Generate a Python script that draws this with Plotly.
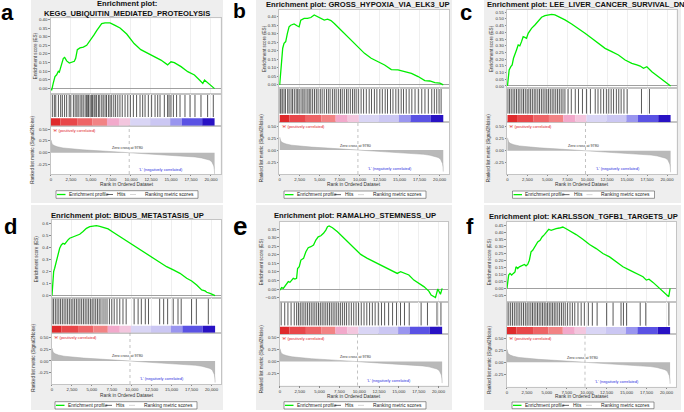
import plotly.graph_objects as go

W, H = 684, 412

# ---------------------------------------------------------------- data
RANK_TICKS = [0, 2500, 5000, 7500, 10000, 12500, 15000, 17500, 20000]
ZERO_CROSS = 9780

# ranked list metric (Signal2Noise), same ranked list for all panels
METRIC_RANK = [0, 50, 150, 400, 800, 1500, 2500, 4000, 6000, 8000, 9780, 11500, 13500,
               15500, 17000, 18000, 18800, 19400, 19800, 20100, 20250, 20350, 20420, 20450]
METRIC_VALUE = [0.27, 0.22, 0.18, 0.15, 0.125, 0.10, 0.08, 0.06, 0.04, 0.018, 0.0, -0.015, -0.03,
                -0.05, -0.07, -0.09, -0.11, -0.13, -0.155, -0.19, -0.23, -0.28, -0.36, -0.45]
METRIC_TICKS = [-0.25, 0.0, 0.25, 0.5]

# red -> blue strip under the hits
STRIP_EDGES = [0, 1200, 3270, 5200, 7000, 8500, 9900, 12400, 14900, 16350, 18900, 20450]
STRIP_COLORS = ["#df2a2c", "#e8474a", "#ee6466", "#f28384", "#f2a9cb", "#f3c6de",
                "#d9d5f5", "#cbc7f3", "#9995ef", "#5a52e4", "#2812c4"]

# ---- panel a
A_TITLE = "Enrichment plot:<br>KEGG_UBIQUITIN_MEDIATED_PROTEOLYSIS"
A_ES_RANK = [0, 83, 292, 500, 709, 917, 1042, 1209, 1376, 1543, 1710, 1960, 2294, 2627, 2919, 3086,
             3294, 3628, 4045, 4462, 4796, 5087, 5379, 5713, 6047, 6338, 6755, 7381, 8006, 8632,
             9466, 10391, 11229, 12067, 12905, 13743, 14581, 15000, 15419, 16257, 17095, 17933,
             18562, 18980, 19190, 19819, 20450]
A_ES = [0.0, -0.01, 0.033, 0.07, 0.08, 0.10, 0.095, 0.12, 0.14, 0.175, 0.18, 0.16, 0.148, 0.153,
        0.158, 0.175, 0.225, 0.235, 0.24, 0.25, 0.27, 0.29, 0.31, 0.335, 0.36, 0.375, 0.38, 0.38,
        0.365, 0.35, 0.315, 0.26, 0.225, 0.205, 0.185, 0.165, 0.137, 0.155, 0.15, 0.127, 0.098,
        0.079, 0.05, 0.03, 0.05, 0.027, 0.0]
A_HITS = [170, 420, 600, 930, 1210, 1420, 1700, 1960, 2280, 2480, 2800, 3020, 3230, 3400, 3640,
          3850, 4030, 4270, 4450, 4600, 4700, 4890, 5080, 5200, 5390, 5520, 5700, 5930, 6100, 6350,
          6530, 6760, 6940, 7180, 7380, 7590, 7850, 8080, 8350, 8620, 8910, 9260, 9600, 9920,
          10300, 10700, 11130, 11460, 11760, 12170, 12580, 13010, 13340, 13630, 14170, 14580,
          14760, 15000, 15300, 15700, 16130, 16750, 17380, 18000, 18750, 19580, 20290]

# ---- panel b
B_TITLE = "Enrichment plot: GROSS_HYPOXIA_VIA_ELK3_UP"
B_ES_RANK = [0, 126, 251, 377, 545, 754, 964, 1173, 1383, 1802, 2221, 2430, 2640, 3059, 3478, 3897,
             4316, 4735, 5154, 5573, 5992, 6411, 6830, 7458, 8087, 8925, 9763, 10601, 11439, 12277,
             13115, 13953, 14791, 15629, 16467, 17305, 18143, 18771, 19400, 20028, 20450]
B_ES = [0.0, 0.078, 0.166, 0.215, 0.244, 0.254, 0.302, 0.34, 0.35, 0.357, 0.345, 0.34, 0.38, 0.39,
        0.39, 0.395, 0.41, 0.40, 0.39, 0.38, 0.385, 0.377, 0.36, 0.33, 0.30, 0.263, 0.224, 0.185,
        0.156, 0.137, 0.117, 0.09, 0.088, 0.078, 0.068, 0.049, 0.025, 0.023, 0.014, 0.01, 0.0]
B_HITS = [40, 150, 330, 540, 720, 1000, 1180, 1420, 1610, 1830, 2060, 2250, 2430, 2670, 2890, 3060,
          3290, 3520, 3700, 3890, 4120, 4350, 4580, 4800, 5080, 5310, 5570, 5850, 6080, 6300, 6590,
          6830, 7060, 7330, 7600, 7820, 8080, 8350, 8560, 8830, 9100, 9330, 9560, 9830, 10180,
          10490, 10830, 11190, 11480, 11840, 12150, 12520, 12830, 13190, 13480, 13850, 14160,
          14520, 14830, 15190, 15480, 15820, 16180, 16520, 16920, 17330, 17760, 18160, 18580,
          19010, 19330, 19630, 19920, 20180]

# ---- panel c
C_TITLE = "Enrichment plot: LEE_LIVER_CANCER_SURVIVAL_DN"
C_ES_RANK = [0, 84, 210, 419, 587, 754, 922, 1131, 1341, 1550, 1760, 1969, 2179, 2388, 2598, 3017,
             3436, 3855, 4274, 4693, 5112, 5531, 5950, 6578, 7207, 8045, 8883, 9721, 10559, 11397,
             12235, 13073, 13911, 14749, 15587, 16215, 16634, 17053, 17472, 18101, 18939, 19777,
             20450]
C_ES = [0.0, 0.057, 0.12, 0.144, 0.157, 0.207, 0.231, 0.269, 0.306, 0.299, 0.331, 0.368, 0.363,
        0.356, 0.393, 0.43, 0.455, 0.488, 0.513, 0.525, 0.53, 0.535, 0.53, 0.513, 0.493, 0.463,
        0.43, 0.393, 0.356, 0.319, 0.281, 0.256, 0.231, 0.194, 0.169, 0.157, 0.149, 0.132, 0.144,
        0.107, 0.07, 0.032, 0.0]
C_HITS = [60, 260, 470, 700, 910, 1130, 1350, 1560, 1800, 2010, 2230, 2460, 2680, 2900, 3120,
          3350, 3560, 3800, 4020, 4250, 4470, 4700, 4920, 5150, 5370, 5600, 5820, 6050, 6280,
          6500, 6730, 6960, 7200, 7600, 8000, 8500, 8900, 9400, 9900, 10400, 11000, 11350, 11700,
          12050, 12400, 12700, 13000, 13300, 13650, 13950, 14250, 14600, 15000, 16800, 17800]

# ---- panel d
D_TITLE = "Enrichment plot: BIDUS_METASTASIS_UP"
D_ES_RANK = [0, 84, 210, 335, 545, 754, 964, 1173, 1383, 1592, 1802, 2011, 2221, 2430, 2640, 3059,
             3478, 3897, 4316, 4735, 5154, 5573, 5992, 6411, 7039, 7668, 8506, 9344, 10182, 11020,
             11858, 12696, 13534, 14372, 15210, 16048, 16886, 17514, 18143, 18771, 19190, 19400,
             19819, 20450]
D_ES = [0.0, 0.144, 0.199, 0.227, 0.282, 0.337, 0.393, 0.42, 0.434, 0.426, 0.448, 0.462, 0.476,
        0.481, 0.489, 0.498, 0.509, 0.531, 0.558, 0.572, 0.578, 0.58, 0.575, 0.567, 0.553, 0.525,
        0.489, 0.453, 0.42, 0.379, 0.343, 0.31, 0.276, 0.24, 0.213, 0.185, 0.144, 0.122, 0.088,
        0.047, 0.039, 0.028, 0.019, 0.0]
D_HITS = [0, 200, 420, 640, 860, 1080, 1300, 1520, 1740, 1960, 2180, 2400, 2620, 2840, 3060, 3280,
          3500, 3720, 3940, 4160, 4380, 4600, 4820, 5040, 5260, 5480, 5700, 5920, 6140, 6400, 6650,
          6900, 7200, 7500, 7800, 8150, 8500, 8900, 9300, 10300, 10800, 11200, 11700, 12100,
          13500, 14000, 14500, 15200, 15800, 16200, 17500, 18100, 19600]

# ---- panel e
E_TITLE = "Enrichment plot: RAMALHO_STEMNESS_UP"
E_ES_RANK = [0, 210, 419, 629, 838, 1048, 1257, 1467, 1676, 1886, 2095, 2221, 2430, 2640, 2975,
             3268, 3562, 3897, 4232, 4525, 4819, 5154, 5489, 5782, 5992, 6201, 6620, 7249, 7877,
             8506, 9344, 10182, 11020, 11858, 12696, 13534, 14372, 14791, 15210, 15629, 16257,
             16886, 17514, 18143, 18771, 19065, 19609, 19903, 20238, 20450]
E_ES = [-0.006, 0.008, 0.004, 0.017, 0.033, 0.043, 0.039, 0.052, 0.062, 0.058, 0.062, 0.12, 0.13,
        0.169, 0.179, 0.218, 0.241, 0.247, 0.257, 0.286, 0.305, 0.311, 0.325, 0.344, 0.364, 0.368,
        0.358, 0.334, 0.305, 0.276, 0.237, 0.202, 0.179, 0.159, 0.14, 0.121, 0.101, 0.091, 0.101,
        0.095, 0.082, 0.052, 0.033, 0.014, -0.012, -0.035, -0.05, 0.0, -0.031, 0.004]
E_HITS = [150, 600, 1000, 1400, 1800, 2100, 2330, 2560, 2790, 3020, 3250, 3480, 3710, 3940, 4170,
          4400, 4630, 4860, 5090, 5320, 5550, 5780, 6010, 6240, 6470, 6700, 6930, 7160, 7400,
          7650, 7900, 8150, 8400, 8700, 9000, 9300, 9600, 9900, 10250, 10600, 10950, 11300,
          11650, 12000, 12400, 12800, 13200, 13700, 14200, 14700, 15200, 15700, 16300, 17800,
          18600, 19800, 20300]

# ---- panel f
F_TITLE = "Enrichment plot: KARLSSON_TGFB1_TARGETS_UP"
F_ES_RANK = [0, 84, 210, 377, 587, 796, 1006, 1131, 1341, 1550, 1760, 1969, 2179, 2388, 2598, 2807,
             3017, 3226, 3562, 3855, 4148, 4400, 4693, 4986, 5238, 5531, 5824, 6159, 6578, 6997,
             7416, 8045, 8673, 9511, 10349, 11187, 12025, 12863, 13701, 14539, 15377, 16215, 17053,
             17472, 17808, 18311, 19149, 19777, 20280, 20450]
F_ES = [0.0, 0.059, 0.095, 0.107, 0.095, 0.107, 0.118, 0.154, 0.142, 0.154, 0.161, 0.166, 0.171,
        0.161, 0.171, 0.201, 0.261, 0.272, 0.308, 0.332, 0.343, 0.367, 0.384, 0.403, 0.422, 0.415,
        0.422, 0.426, 0.431, 0.438, 0.426, 0.407, 0.384, 0.351, 0.313, 0.284, 0.249, 0.225, 0.189,
        0.154, 0.13, 0.107, 0.083, 0.059, 0.066, 0.043, 0.0, -0.028, -0.059, 0.0]
F_HITS = [0, 230, 460, 690, 920, 1150, 1380, 1610, 1840, 2070, 2300, 2530, 2760, 2990, 3200, 3410,
          3620, 3830, 4040, 4250, 4460, 4670, 4880, 5090, 5300, 5510, 5720, 5930, 6140, 6370,
          6600, 6830, 7060, 7300, 7600, 7900, 8200, 8500, 8900, 9300, 9700, 10200, 10700, 11300,
          12500, 13300, 14300, 14600, 15000, 16700, 17400, 20300]

PANEL_LETTERS = ["a", "b", "c", "d", "e", "f"]
PANEL_DATA = [
    (A_TITLE, A_ES_RANK, A_ES, A_HITS),
    (B_TITLE, B_ES_RANK, B_ES, B_HITS),
    (C_TITLE, C_ES_RANK, C_ES, C_HITS),
    (D_TITLE, D_ES_RANK, D_ES, D_HITS),
    (E_TITLE, E_ES_RANK, E_ES, E_HITS),
    (F_TITLE, F_ES_RANK, F_ES, F_HITS),
]

# ---------------------------------------------------------------- geometry / style (pixels)
X_RANGE = [-60, 21190]
GEOMS = [
    dict(bg=(31, 0, 223, 203), x=(50.5, 220.5), es=(18.3, 94), band=(94, 125.7), cb=118.3,
         met=(125.7, 174), es_rng=(-0.031, 0.406), es_dtick=0.05, es_fmt=".2f",
         met_rng=(-0.45, 0.57), title=(127, 9), ylab=(35, 33), xlab=(127, 184.3),
         leg=(56, 190.7, 198.3), letter=(7.5, 12.5, 22)),
    dict(bg=(256, 0, 452, 203), x=(279.2, 449.2), es=(10, 88), band=(88, 122.3), cb=115,
         met=(122.3, 174), es_rng=(-0.018, 0.439), es_dtick=0.05, es_fmt=".2f",
         met_rng=(-0.5, 0.577), title=(358, 5), ylab=(264, 261), xlab=(354, 184.3),
         leg=(284, 191, 198.3), letter=(239, 11, 21)),
    dict(bg=(484, 0, 681, 203), x=(507, 676.5), es=(10, 88), band=(88, 122.3), cb=115,
         met=(122.3, 174), es_rng=(-0.015, 0.567), es_dtick=0.05, es_fmt=".2f",
         met_rng=(-0.486, 0.594), title=(585.5, 5), ylab=(491, 488), xlab=(582, 184.3),
         leg=(512.5, 191, 198.3), letter=(466, 12.5, 22)),
    dict(bg=(31, 205, 223, 410), x=(51.5, 221), es=(220, 297.7), band=(297.7, 332.7), cb=325.7,
         met=(332.7, 384), es_rng=(-0.017, 0.627), es_dtick=0.1, es_fmt=".1f",
         met_rng=(-0.48, 0.59), title=(127, 215), ylab=(36.5, 33.5), xlab=(127, 395),
         leg=(55, 401.7, 409), letter=(10, 226, 22)),
    dict(bg=(256, 205, 452, 410), x=(279.5, 448), es=(221.7, 301.7), band=(301.7, 334), cb=326.7,
         met=(334, 385.5), es_rng=(-0.074, 0.393), es_dtick=0.05, es_fmt=".2f",
         met_rng=(-0.5, 0.577), title=(355, 215), ylab=(261.5, 261.5), xlab=(354, 396.5),
         leg=(284, 401.7, 409), letter=(240, 226, 26)),
    dict(bg=(484, 205, 681, 410), x=(506.5, 676), es=(221.7, 301.7), band=(301.7, 334.3), cb=327,
         met=(334.3, 386.7), es_rng=(-0.095, 0.476), es_dtick=0.05, es_fmt=".2f",
         met_rng=(-0.51, 0.583), title=(583, 216.7), ylab=(489.5, 489.5), xlab=(582, 396.5),
         leg=(512, 402, 408.7), letter=(470, 226, 22)),
]

FONT = "Liberation Sans, Arial, sans-serif"
BORDER = "#c4c4c4"
TICKFONT = dict(family=FONT, size=4.3, color="#333333")


def fx(p):
    return p / W


def fy(p):
    return 1 - p / H


def nm(i):
    return "" if i == 1 else str(i)


fig = go.Figure()
shapes, annos, axes = [], [], {}

for k, (letter, data, G) in enumerate(zip(PANEL_LETTERS, PANEL_DATA, GEOMS)):
    title, es_rank, es, hits = data
    n_es, n_band, n_met = nm(3 * k + 1), nm(3 * k + 2), nm(3 * k + 3)
    xd = [fx(G["x"][0]), fx(G["x"][1])]

    # backgrounds
    bx0, by0, bx1, by1 = G["bg"]
    shapes.append(dict(type="rect", xref="paper", yref="paper", x0=fx(bx0), x1=fx(bx1),
                       y0=fy(by1), y1=fy(by0), fillcolor="#eeeeee", line_width=0, layer="below"))
    shapes.append(dict(type="rect", xref="paper", yref="paper", x0=xd[0], x1=xd[1],
                       y0=fy(G["met"][1]), y1=fy(G["es"][0]), fillcolor="white", line_width=0,
                       layer="below"))

    for j, (n, (top, bot)) in enumerate(zip([n_es, n_band, n_met], [G["es"], G["band"], G["met"]])):
        xa = dict(domain=xd, anchor="y" + n, range=X_RANGE, showline=True, mirror=True,
                  linecolor=BORDER, linewidth=0.6, zeroline=False, showgrid=False, ticks="",
                  showticklabels=False, fixedrange=True)
        ya = dict(domain=[fy(bot), fy(top)], anchor="x" + n, showline=True, mirror=True,
                  linecolor=BORDER, linewidth=0.6, showgrid=False, zeroline=False, ticks="",
                  showticklabels=False, fixedrange=True)
        if j == 0:
            xa.update(showgrid=True, gridcolor="#efefef", gridwidth=0.5, tickvals=RANK_TICKS)
            ya.update(range=list(G["es_rng"]), tick0=0, dtick=G["es_dtick"], tickformat=G["es_fmt"],
                      showticklabels=True, ticks="outside", ticklen=1.5, tickwidth=0.5,
                      tickcolor="#888888", tickfont=TICKFONT, zeroline=True,
                      zerolinecolor="#a0a0a0", zerolinewidth=0.8)
        elif j == 1:
            xa.update(showgrid=True, gridcolor="#ededed", gridwidth=0.5, tickvals=RANK_TICKS)
            ya.update(range=[0, 1])
        else:
            xa.update(tickvals=RANK_TICKS, ticktext=[f"{v:,}" for v in RANK_TICKS],
                      showticklabels=True, ticks="outside", ticklen=1.5, tickwidth=0.5,
                      tickcolor="#888888", tickfont=TICKFONT)
            ya.update(range=list(G["met_rng"]), tickvals=METRIC_TICKS,
                      ticktext=[f"{v:.2f}" for v in METRIC_TICKS], showticklabels=True,
                      ticks="outside", ticklen=1.5, tickwidth=0.5, tickcolor="#888888",
                      tickfont=TICKFONT)
        axes["xaxis" + n] = xa
        axes["yaxis" + n] = ya

    # enrichment profile
    fig.add_trace(go.Scatter(x=es_rank, y=es, mode="lines",
                             line=dict(color="#00ee00", width=1.3),
                             xaxis="x" + n_es, yaxis="y" + n_es, hoverinfo="skip",
                             showlegend=False))

    # hits
    band_h = G["band"][1] - G["band"][0]
    cbf = (G["band"][1] - G["cb"]) / band_h
    hx, hy = [], []
    for h in hits:
        hx += [h, h, None]
        hy += [cbf + 0.04, 0.97, None]
    fig.add_trace(go.Scatter(x=hx, y=hy, mode="lines", line=dict(color="#111111", width=0.7),
                             xaxis="x" + n_band, yaxis="y" + n_band, hoverinfo="skip",
                             showlegend=False))

    # colour strip
    for e0, e1, c in zip(STRIP_EDGES[:-1], STRIP_EDGES[1:], STRIP_COLORS):
        shapes.append(dict(type="rect", xref="x" + n_band, yref="y" + n_band, x0=e0, x1=e1,
                           y0=0, y1=cbf, fillcolor=c, line_width=0, layer="above"))

    # ranked list metric
    fig.add_trace(go.Scatter(x=METRIC_RANK, y=METRIC_VALUE, mode="lines", fill="tozeroy",
                             fillcolor="#b9b9b9", line=dict(color="#a8a8a8", width=0.5),
                             xaxis="x" + n_met, yaxis="y" + n_met, hoverinfo="skip",
                             showlegend=False))
    shapes.append(dict(type="line", xref="x" + n_met, yref="y" + n_met + " domain",
                       x0=ZERO_CROSS, x1=ZERO_CROSS, y0=0, y1=1,
                       line=dict(color="#999999", width=0.6, dash="dot")))

    annos.append(dict(text=f"Zero cross at {ZERO_CROSS}", x=ZERO_CROSS, y=0, xref="x" + n_met,
                      yref="y" + n_met, xanchor="center", yanchor="bottom", xshift=-2, yshift=0.5,
                      showarrow=False, font=dict(family=FONT, size=3.7, color="#333333")))
    annos.append(dict(text="'H' (positively correlated)", x=0, y=1, xref="x" + n_met,
                      yref="y" + n_met + " domain", xanchor="left", yanchor="top", xshift=0,
                      showarrow=False, font=dict(family=FONT, size=3.9, color="#e02020")))
    annos.append(dict(text="'L' (negatively correlated)", x=13800, y=0.01, xref="x" + n_met,
                      yref="y" + n_met + " domain", xanchor="center", yanchor="bottom",
                      showarrow=False, font=dict(family=FONT, size=3.9, color="#2a2ae0")))

    # titles and labels
    tx, ty = G["title"]
    annos.append(dict(text=title, x=fx(tx), y=fy(ty), xref="paper", yref="paper",
                      xanchor="center", yanchor="middle", showarrow=False,
                      font=dict(family=FONT, size=7.6, color="#111111", weight="bold")))
    lx, ly, ls = G["letter"]
    annos.append(dict(text=letter, x=fx(lx), y=fy(ly), xref="paper", yref="paper",
                      xanchor="center", yanchor="middle", showarrow=False,
                      font=dict(family=FONT, size=ls, color="black", weight="bold")))
    annos.append(dict(text="Enrichment score (ES)", x=fx(G["ylab"][0]),
                      y=fy((G["es"][0] + G["es"][1]) / 2), xref="paper", yref="paper",
                      textangle=-90, xanchor="center", yanchor="middle", showarrow=False,
                      font=dict(family=FONT, size=4.6, color="#333333")))
    annos.append(dict(text="Ranked list metric (Signal2Noise)", x=fx(G["ylab"][1]),
                      y=fy((G["met"][0] + G["met"][1]) / 2), xref="paper", yref="paper",
                      textangle=-90, xanchor="center", yanchor="middle", showarrow=False,
                      font=dict(family=FONT, size=4.6, color="#333333")))
    annos.append(dict(text="Rank in Ordered Dataset", x=fx(G["xlab"][0]), y=fy(G["xlab"][1]),
                      xref="paper", yref="paper", xanchor="center", yanchor="middle",
                      showarrow=False, font=dict(family=FONT, size=4.8, color="#333333")))

    # legend box
    L, t, b = G["leg"]
    ym = (t + b) / 2
    shapes.append(dict(type="rect", xref="paper", yref="paper", x0=fx(L), x1=fx(L + 142),
                       y0=fy(b), y1=fy(t), fillcolor="white",
                       line=dict(color="#555555", width=0.6)))
    for (s0, s1, col, wd) in [(1, 9.5, "#00ee00", 1.3), (51, 57, "#222222", 0.7),
                              (74, 80, "#cccccc", 0.8)]:
        shapes.append(dict(type="line", xref="paper", yref="paper", x0=fx(L + s0),
                           x1=fx(L + s1), y0=fy(ym), y1=fy(ym), line=dict(color=col, width=wd)))
    for (off, txt) in [(10.5, "Enrichment profile"), (59, "Hits"),
                       (86.5, "Ranking metric scores")]:
        annos.append(dict(text=txt, x=fx(L + off), y=fy(ym), xref="paper", yref="paper",
                          xanchor="left", yanchor="middle", showarrow=False,
                          font=dict(family=FONT, size=4.9, color="#222222")))

fig.update_layout(
    width=W, height=H, margin=dict(l=0, r=0, t=0, b=0),
    paper_bgcolor="white", plot_bgcolor="rgba(0,0,0,0)",
    showlegend=False, shapes=shapes, annotations=annos, **axes,
)

fig.write_html("out.html", config={"displayModeBar": False},
               post_script="document.body.style.margin='0px';document.body.style.overflow='hidden';")
